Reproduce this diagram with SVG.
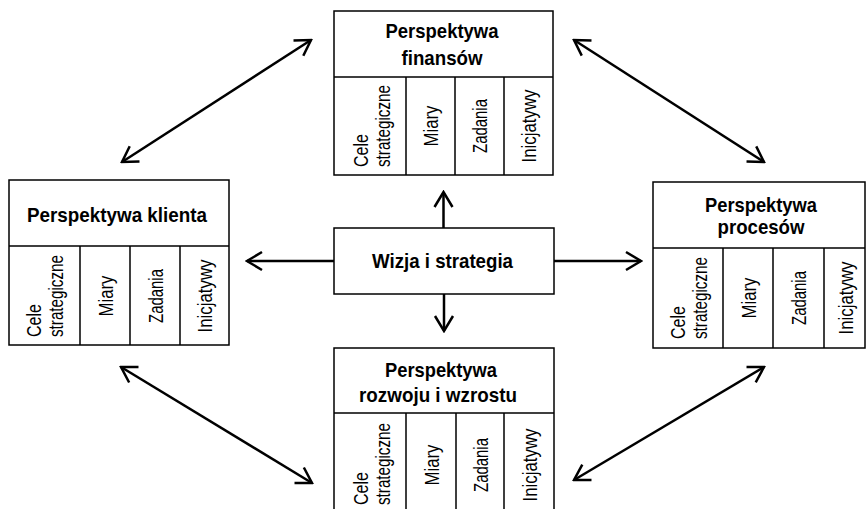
<svg xmlns="http://www.w3.org/2000/svg" width="866" height="509" viewBox="0 0 866 509">
  <style>
    .box { fill: #fff; stroke: #000; stroke-width: 1.5; }
    .div { fill: none; stroke: #000; stroke-width: 1.5; }
    .hd { font-family: "Liberation Sans", Arial, sans-serif; font-weight: bold; font-size: 21px; fill: #000; text-anchor: middle; }
    .col { font-family: "Liberation Sans", Arial, sans-serif; font-size: 20.5px; fill: #000; }
    .mid { text-anchor: middle; }
    .st { text-anchor: start; }
    .link { fill: none; stroke: #000; stroke-width: 2.5; }
  </style>
  <defs>
    <marker id="head" markerUnits="userSpaceOnUse" viewBox="-18 -12 20 24" refX="0" refY="0" markerWidth="20" markerHeight="24" orient="auto-start-reverse">
      <path d="M-15,-9 L0,0 L-15,9" fill="none" stroke="#000" stroke-width="2.5" stroke-linejoin="miter"/>
    </marker>
  </defs>
  <rect width="866" height="509" fill="#fff"/>

  <!-- connectors -->
  <g id="connectors">
    <line class="link" x1="443.5" y1="228" x2="443.5" y2="192" marker-end="url(#head)"/>
    <line class="link" x1="334" y1="261" x2="247" y2="261" marker-end="url(#head)"/>
    <line class="link" x1="554" y1="261" x2="641" y2="261" marker-end="url(#head)"/>
    <line class="link" x1="444" y1="294" x2="444" y2="331" marker-end="url(#head)"/>
    <line class="link" x1="122" y1="162" x2="311" y2="40" marker-start="url(#head)" marker-end="url(#head)"/>
    <line class="link" x1="574" y1="40" x2="764" y2="162" marker-start="url(#head)" marker-end="url(#head)"/>
    <line class="link" x1="121" y1="367" x2="312" y2="483" marker-start="url(#head)" marker-end="url(#head)"/>
    <line class="link" x1="764" y1="367" x2="574" y2="480" marker-start="url(#head)" marker-end="url(#head)"/>
  </g>

  <!-- centre -->
  <g id="wizja">
    <rect class="box" x="334" y="228" width="220" height="66"/>
    <text class="hd" x="442.5" y="268" textLength="141" lengthAdjust="spacingAndGlyphs">Wizja i strategia</text>
  </g>

  <!-- finance perspective -->
  <g id="finanse">
    <rect class="box" x="334" y="11" width="219" height="164"/>
    <path class="div" d="M334,77 H553 M406,77 V175 M455,77 V175 M504,77 V175"/>
    <text class="hd" x="442" y="38" textLength="113" lengthAdjust="spacingAndGlyphs">Perspektywa</text>
    <text class="hd" x="442" y="65" textLength="81" lengthAdjust="spacingAndGlyphs">finansów</text>
    <text class="col st" transform="translate(368,167) rotate(-90)" textLength="33" lengthAdjust="spacingAndGlyphs">Cele</text>
    <text class="col st" transform="translate(390,167) rotate(-90)" textLength="82" lengthAdjust="spacingAndGlyphs">strategiczne</text>
    <text class="col mid" transform="translate(438,126) rotate(-90)" textLength="41" lengthAdjust="spacingAndGlyphs">Miary</text>
    <text class="col mid" transform="translate(487,126) rotate(-90)" textLength="54" lengthAdjust="spacingAndGlyphs">Zadania</text>
    <text class="col mid" transform="translate(536,126) rotate(-90)" textLength="73" lengthAdjust="spacingAndGlyphs">Inicjatywy</text>
  </g>

  <!-- client perspective -->
  <g id="klient">
    <rect class="box" x="9" y="180" width="220" height="165"/>
    <path class="div" d="M9,246 H229 M80,246 V345 M130,246 V345 M180,246 V345"/>
    <text class="hd" x="117" y="222" textLength="180" lengthAdjust="spacingAndGlyphs">Perspektywa klienta</text>
    <text class="col st" transform="translate(41,337) rotate(-90)" textLength="33" lengthAdjust="spacingAndGlyphs">Cele</text>
    <text class="col st" transform="translate(63,337) rotate(-90)" textLength="82" lengthAdjust="spacingAndGlyphs">strategiczne</text>
    <text class="col mid" transform="translate(112.5,296) rotate(-90)" textLength="41" lengthAdjust="spacingAndGlyphs">Miary</text>
    <text class="col mid" transform="translate(162.5,296) rotate(-90)" textLength="54" lengthAdjust="spacingAndGlyphs">Zadania</text>
    <text class="col mid" transform="translate(212,296) rotate(-90)" textLength="73" lengthAdjust="spacingAndGlyphs">Inicjatywy</text>
  </g>

  <!-- process perspective -->
  <g id="procesy">
    <rect class="box" x="653" y="182" width="212" height="166"/>
    <path class="div" d="M653,248 H865 M723,248 V348 M773,248 V348 M824,248 V348"/>
    <text class="hd" x="761" y="212" textLength="112" lengthAdjust="spacingAndGlyphs">Perspektywa</text>
    <text class="hd" x="761" y="234" textLength="87" lengthAdjust="spacingAndGlyphs">procesów</text>
    <text class="col st" transform="translate(685,339) rotate(-90)" textLength="33" lengthAdjust="spacingAndGlyphs">Cele</text>
    <text class="col st" transform="translate(707,339) rotate(-90)" textLength="82" lengthAdjust="spacingAndGlyphs">strategiczne</text>
    <text class="col mid" transform="translate(755.5,298) rotate(-90)" textLength="41" lengthAdjust="spacingAndGlyphs">Miary</text>
    <text class="col mid" transform="translate(806,298) rotate(-90)" textLength="54" lengthAdjust="spacingAndGlyphs">Zadania</text>
    <text class="col mid" transform="translate(852.5,298) rotate(-90)" textLength="73" lengthAdjust="spacingAndGlyphs">Inicjatywy</text>
  </g>

  <!-- learning and growth perspective -->
  <g id="rozwoj">
    <rect class="box" x="334" y="348" width="220" height="170"/>
    <path class="div" d="M334,413 H554 M406,413 V518 M456,413 V518 M504,413 V518"/>
    <text class="hd" x="441" y="377" textLength="112" lengthAdjust="spacingAndGlyphs">Perspektywa</text>
    <text class="hd" x="438" y="402" textLength="158" lengthAdjust="spacingAndGlyphs">rozwoju i wzrostu</text>
    <text class="col st" transform="translate(368,505) rotate(-90)" textLength="33" lengthAdjust="spacingAndGlyphs">Cele</text>
    <text class="col st" transform="translate(390,505) rotate(-90)" textLength="82" lengthAdjust="spacingAndGlyphs">strategiczne</text>
    <text class="col mid" transform="translate(438.5,465) rotate(-90)" textLength="41" lengthAdjust="spacingAndGlyphs">Miary</text>
    <text class="col mid" transform="translate(487.5,465) rotate(-90)" textLength="54" lengthAdjust="spacingAndGlyphs">Zadania</text>
    <text class="col mid" transform="translate(536.5,465) rotate(-90)" textLength="73" lengthAdjust="spacingAndGlyphs">Inicjatywy</text>
  </g>
</svg>
